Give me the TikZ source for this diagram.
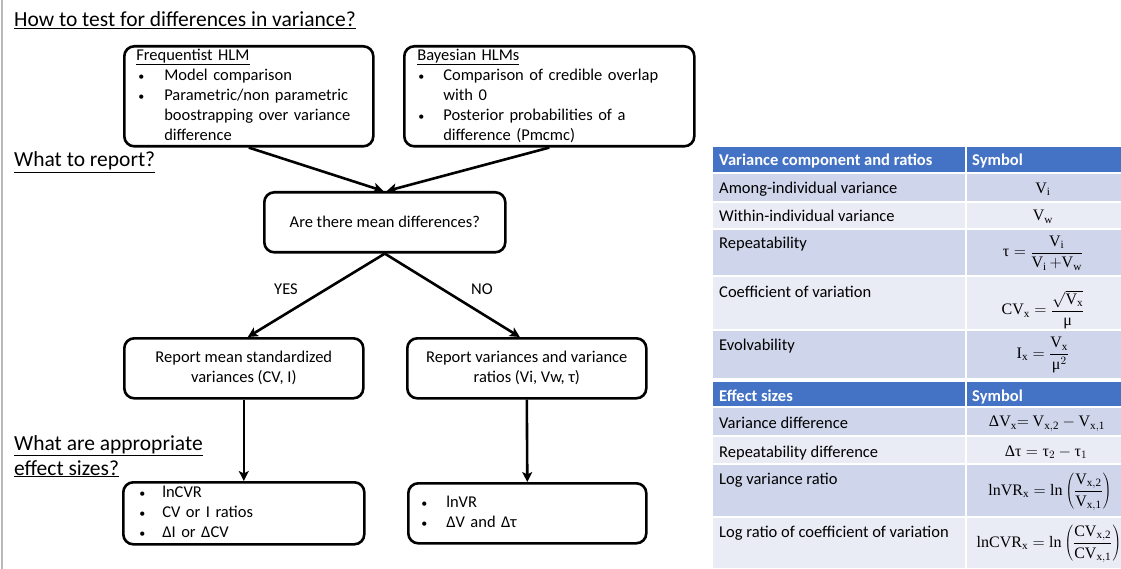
\documentclass[tikz,border=0pt]{standalone}
\usepackage{fix-cm}
\usepackage{fontspec}
\setmainfont{Carlito}
\newfontfamily\gr{Liberation Serif}
\setmathrm{Liberation Serif}
\usetikzlibrary{arrows.meta}
\definecolor{hdr}{HTML}{4472C4}
\definecolor{rowA}{HTML}{CFD5EA}
\definecolor{rowB}{HTML}{E9EBF5}
\newcommand{\gt}{\mbox{\gr τ}}
\newcommand{\gm}{\mbox{\gr μ}}
\newcommand{\gD}{\mbox{\gr Δ}}
\newcommand{\bu}{{\fontsize{12}{20}\selectfont•}}
\begin{document}
\begin{tikzpicture}[x=1pt,y=-1pt,
  box/.style={draw, line width=2.6pt, rounded corners=10pt, inner sep=0pt, anchor=north west},
  arr/.style={line width=2.6pt, -{Stealth[length=10pt,width=10pt,inset=2.5pt]}},
  ft/.style={font=\fontsize{16.5}{20}\selectfont},
  hd/.style={font=\fontsize{21.5}{25}\selectfont, anchor=base west, inner sep=0pt, align=left},
  tl/.style={font=\fontsize{16.5}{20}\selectfont, anchor=base west, inner sep=0pt},
  th/.style={font=\fontsize{16.5}{20}\selectfont\bfseries, text=white, anchor=base west, inner sep=0pt},
  fm/.style={font=\fontsize{16}{19}\selectfont, inner sep=0pt},
  sep/.style={white, line width=1.5pt}]
\useasboundingbox (0,0) rectangle (1121,569);
\fill[white] (0,0) rectangle (1121,569);
\draw[gray!55, line width=1.5pt] (2,0) -- (2,569);

% headings
\node[hd] (h1) at (14,26.5) {\underline{How to test for differences in variance?}};
\node[hd] (h2) at (14,167) {\underline{What to report?}};
\node[hd] (h3) at (14,450) {\underline{What are appropriate}};
\node[hd] (h4) at (14,475) {\underline{effect sizes?}};

% flowchart boxes
\node[box, ft, minimum width=249pt, minimum height=98pt, text width=225pt, align=left] (freq) at (123,45)
 {\begin{tabular}{@{}p{28pt}@{}l@{}}
  \multicolumn{2}{@{}l@{}}{\underline{Frequentist HLM}}\\
  \hspace{2pt}\bu & Model comparison\\
  \hspace{2pt}\bu & Parametric/non parametric\\
  & boostrapping over variance\\
  & difference
 \end{tabular}};
\node[box, ft, minimum width=290pt, minimum height=98pt, text width=264pt, align=left] (bayes) at (403,45)
 {\begin{tabular}{@{}p{26pt}@{}l@{}}
  \multicolumn{2}{@{}l@{}}{\underline{Bayesian HLMs}}\\
  \hspace{1pt}\bu & Comparison of credible overlap\\
  & with 0\\
  \hspace{1pt}\bu & Posterior probabilities of a\\
  & difference (Pmcmc)
 \end{tabular}};
\node[box, ft, minimum width=241pt, minimum height=60pt] (dec) at (263,191) {Are there mean differences?};
\node[box, ft, minimum width=239pt, minimum height=60pt, align=center] (yes) at (123,337)
 {Report mean standardized\\variances (CV, I)};
\node[box, ft, minimum width=239pt, minimum height=60pt, align=center] (no) at (406,337)
 {Report variances and variance\\ratios (Vi, Vw, τ)};
\node[box, ft, minimum width=241pt, minimum height=62pt, text width=209pt, align=left] (effL) at (122,481)
 {\begin{tabular}{@{}p{23pt}@{}l@{}}
  \bu & lnCVR\\
  \bu & CV or I ratios\\
  \bu & ΔI or ΔCV
 \end{tabular}};
\node[box, ft, minimum width=238pt, minimum height=60pt, text width=212pt, align=left] (effR) at (407,482)
 {\begin{tabular}{@{}p{25pt}@{}l@{}}
  \bu & lnVR\\
  \bu & ΔV and Δτ
 \end{tabular}};

% connectors
\draw[arr] (freq.south) -- ([xshift=-1.5pt]dec.north);
\draw[arr] (bayes.south) -- ([xshift=2pt]dec.north);
\draw[arr] (dec.south) -- ([xshift=4pt]yes.north);
\draw[arr] (dec.south) -- ([xshift=-7pt]no.north);
\draw[arr] (yes.south) -- (effL.north);
\draw[arr] (no.south) -- (effR.north);
\node[ft, inner sep=0pt] (lyes) at (286,289) {YES};
\node[ft, inner sep=0pt] (lno) at (482,289) {NO};

% table
\fill[hdr] (713,147) rectangle (1121,173);
\fill[rowA] (713,173) rectangle (1121,202);
\fill[rowB] (713,202) rectangle (1121,229);
\fill[rowA] (713,229) rectangle (1121,276);
\fill[rowB] (713,276) rectangle (1121,330);
\fill[rowA] (713,330) rectangle (1121,378);
\fill[hdr] (713,382) rectangle (1121,407);
\fill[rowA] (713,407) rectangle (1121,436);
\fill[rowB] (713,436) rectangle (1121,464);
\fill[rowA] (713,464) rectangle (1121,517);
\fill[rowB] (713,517) rectangle (1121,568);
\foreach \yy in {173,202,229,276,330,407,436,464,517} \draw[sep] (713,\yy) -- (1121,\yy);
\draw[sep] (966,147) -- (966,378);
\draw[sep] (966,382) -- (966,568);

\node[th] (c1) at (719,165.5) {Variance component and ratios};
\node[th] (c2) at (972,165.5) {Symbol};
\node[tl] (r1) at (719,193.5) {Among-individual variance};
\node[tl] (r2) at (719,221.5) {Within-individual variance};
\node[tl] (r3) at (719,248.5) {Repeatability};
\node[tl] (r4) at (719,297.5) {Coefficient of variation};
\node[tl] (r5) at (719,350.5) {Evolvability};
\node[th] (e0) at (719,401.5) {Effect sizes};
\node[th] (e0s) at (972,401.5) {Symbol};
\node[tl] (e1) at (719,428.5) {Variance difference};
\node[tl] (e2) at (719,457) {Repeatability difference};
\node[tl] (e3) at (719,484.5) {Log variance ratio};
\node[tl] (e4) at (719,537.5) {Log ratio of coefficient of variation};

\node[fm] (s1) at (1043,189) {$\mathrm{V_i}$};
\node[fm] (s2) at (1043,217) {$\mathrm{V_w}$};
\node[fm] (s3) at (1043,253) {$\gt = \displaystyle\frac{\mathrm{V_i}}{\mathrm{V_i}\,{+}\mathrm{V_w}}$};
\node[fm] (s4) at (1043,310) {$\mathrm{CV_x} = \displaystyle\frac{\sqrt{\mathrm{V_x}}}{\gm}$};
\node[fm] (s5) at (1043,355) {$\mathrm{I_x} = \displaystyle\frac{\mathrm{V_x}}{\gm^2}$};
\node[fm] (s6) at (1047,424) {$\gD\mathrm{V_x}{=}\ \mathrm{V_{x,2}} - \mathrm{V_{x,1}}$};
\node[fm] (s7) at (1046,452) {$\gD\gt = \gt_2 - \gt_1$};
\node[fm] (s8) at (1050,492) {$\mathrm{lnVR_x} = \ln\left(\displaystyle\frac{\mathrm{V_{x,2}}}{\mathrm{V_{x,1}}}\right)$};
\node[fm] (s9) at (1049,544) {$\mathrm{lnCVR_x} = \ln\left(\displaystyle\frac{\mathrm{CV_{x,2}}}{\mathrm{CV_{x,1}}}\right)$};
\end{tikzpicture}
\end{document}
